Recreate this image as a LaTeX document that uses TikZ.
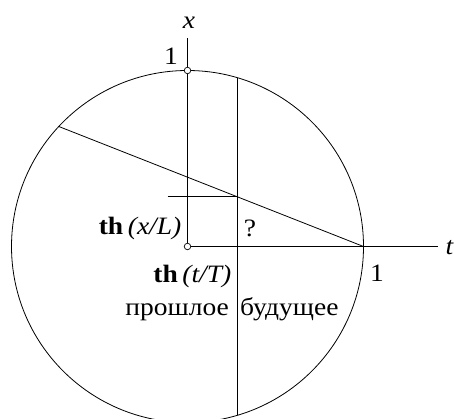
\documentclass[tikz,border=0pt]{standalone}
\usepackage{fontspec}
\setmainfont{Liberation Serif}
\newcommand\widetxt[1]{\scalebox{1.1}[1]{#1}}
\begin{document}
\begin{tikzpicture}[x=1pt,y=1pt,
  lbl/.style={inner sep=0pt,font=\fontsize{25}{29}\selectfont},
  ln/.style={line width=0.8pt},
  dot/.style={circle,draw,fill=white,inner sep=0pt,minimum size=6.5pt,line width=0.7pt}]
\useasboundingbox (0,0) rectangle (454,419);
\coordinate (O) at (187.5,172.5);
\draw[ln] (O) circle (176);
% axes
\coordinate (xend) at (187.5,381);
\coordinate (tend) at (438,172.5);
\draw[ln] (O) -- (xend);
\draw[ln] (O) -- (tend);
% vertical line
\coordinate (vtop) at (237,341.4);
\coordinate (vbot) at (237,3.6);
\draw[ln] (vtop) -- (vbot);
% slanted line
\coordinate (E) at (363.5,172.5);
\coordinate (W) at (58.8,292.5);
\draw[ln] (E) -- (W);
% horizontal
\coordinate (P) at (237,222.3);
\coordinate (hl) at (167.7,222.3);
\draw[ln] (hl) -- (P);
% dots
\node[dot] (o) at (O) {};
\node[dot] (one) at (187.5,348.5) {};
% labels
\node[lbl,anchor=base] (xl) at (189,390) {\widetxt{\itshape x}};
\node[lbl,anchor=base] (tl) at (449.5,164) {\widetxt{\itshape t}};
\node[lbl,anchor=base east] (l1) at (178,354) {\widetxt{1}};
\node[lbl,anchor=base] (l1b) at (377,137) {\widetxt{1}};
\node[lbl,anchor=base] (q) at (250,182) {\widetxt{?}};
\node[lbl,anchor=base east] (thx) at (181.5,184) {\widetxt{\textbf{th}\,\textit{(x/L)}}};
\node[lbl,anchor=base east] (tht) at (231.5,136.3) {\widetxt{\textbf{th}\,\textit{(t/T)}}};
\node[lbl,anchor=base east] (past) at (229,103) {\widetxt{прошлое}};
\node[lbl,anchor=base west] (fut) at (240,103) {\widetxt{будущее}};
\end{tikzpicture}
\end{document}
